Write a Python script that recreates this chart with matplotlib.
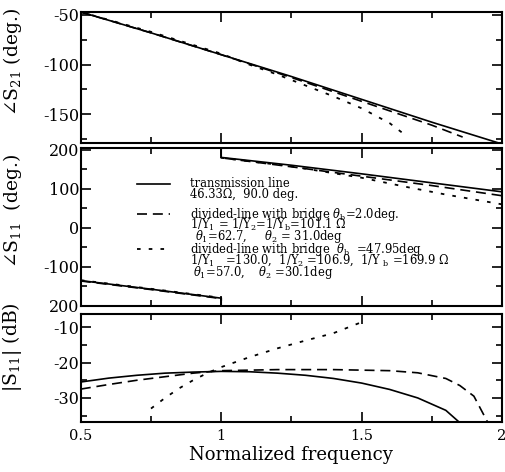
import matplotlib
matplotlib.use('Agg')
import matplotlib.pyplot as plt
from matplotlib.ticker import MultipleLocator

plt.rcParams['font.family'] = ['DejaVu Serif']
plt.rcParams['mathtext.fontset'] = 'dejavuserif'
plt.rcParams['axes.unicode_minus'] = False

# --- angle S21 (deg.) ---
f21_tl = [0.5, 0.75, 1.0, 1.25, 1.5, 1.75, 2.0]
s21_tl = [-47, -68, -90, -112, -135, -158, -180]
f21_dl = [0.5, 0.75, 1.0, 1.25, 1.5, 1.75, 1.86]
s21_dl = [-47, -68, -90, -113, -137, -161, -173]
f21_br = [0.5, 0.75, 1.0, 1.1, 1.2, 1.3, 1.4, 1.5, 1.6, 1.665]
s21_br = [-47, -67, -89, -100, -110, -121, -132, -144, -159, -173]

# --- angle S11 (deg.), two branches because of the +-180 wrap at f=1 ---
f11_lo = [0.5, 0.75, 1.0, 1.0]
s11_tl_lo = [-135, -157, -180, -210]
s11_dl_lo = [-136, -158, -181, -210]
s11_br_lo = [-134, -156, -179, -210]
f11_hi = [1.0, 1.0, 1.25, 1.5, 1.75, 2.0]
s11_tl_hi = [210, 180, 160, 138, 115, 92]
s11_dl_hi = [210, 179, 156, 132, 108, 82]
f11_br_hi = [1.0, 1.0, 1.25, 1.5, 1.67, 1.8, 2.0]
s11_br_hi = [210, 179, 157, 128, 103, 85, 60]

# --- |S11| (dB) ---
fm_tl = [0.5, 0.6, 0.7, 0.8, 0.9, 1.0, 1.1, 1.2, 1.3, 1.4, 1.5, 1.6, 1.7, 1.8, 1.85]
m_tl = [-25.5, -24.4, -23.6, -23.0, -22.7, -22.5, -22.6, -23.0, -23.6, -24.5,
        -25.8, -27.6, -30.0, -33.5, -37.0]
fm_dl = [0.5, 0.6, 0.7, 0.8, 0.9, 1.0, 1.2, 1.4, 1.6, 1.7, 1.8, 1.85, 1.9, 1.95]
m_dl = [-27.5, -26.2, -25.0, -24.0, -23.0, -22.3, -22.0, -22.0, -22.3, -22.9,
        -24.5, -26.5, -29.5, -37.0]
fm_br = [0.75, 0.8, 0.85, 0.9, 0.95, 1.0, 1.1, 1.2, 1.3, 1.4, 1.5]
m_br = [-33.0, -30.0, -27.3, -25.0, -23.0, -21.3, -18.5, -16.0, -13.8, -11.7, -8.6]

xticks = [0.5, 1.0, 1.5, 2.0]
xticklabels = ['0.5', '1', '1.5', '2']
ticks_s11 = [-200, -100, 0, 100, 200]
ticklabels_s11 = ['200', '-100', '0', '100', '200']

solid = dict(color='black', lw=1.2, ls='-')
dashed = dict(color='black', lw=1.2, ls=(0, (6, 3.5)))
dotted = dict(color='black', lw=1.3, ls=(0, (2, 4.5)))

fig = plt.figure(figsize=(5.05, 4.72), dpi=100)
ax1 = fig.add_axes([0.160, 0.697, 0.834, 0.2776])
ax2 = fig.add_axes([0.160, 0.3517, 0.834, 0.3347])
ax3 = fig.add_axes([0.160, 0.1059, 0.834, 0.2288])

ax1.plot(f21_tl, s21_tl, **solid)
ax1.plot(f21_dl, s21_dl, **dashed)
ax1.plot(f21_br, s21_br, **dotted)
ax1.set_ylim(-179, -47)
ax1.set_yticks([-150, -100, -50])
ax1.yaxis.set_minor_locator(MultipleLocator(25))

ax2.plot(f11_lo, s11_tl_lo, **solid)
ax2.plot(f11_lo, s11_dl_lo, **dashed)
ax2.plot(f11_lo, s11_br_lo, **dotted)
ax2.plot(f11_hi, s11_tl_hi, **solid)
ax2.plot(f11_hi, s11_dl_hi, **dashed)
ax2.plot(f11_br_hi, s11_br_hi, **dotted)
ax2.set_ylim(-200, 204)
ax2.set_yticks(ticks_s11)
ax2.set_yticklabels(ticklabels_s11)
ax2.yaxis.set_minor_locator(MultipleLocator(50))

ax3.plot(fm_tl, m_tl, **solid)
ax3.plot(fm_dl, m_dl, **dashed)
ax3.plot(fm_br, m_br, **dotted)
ax3.set_ylim(-36.8, -6.3)
ax3.set_yticks([-30, -20, -10])
ax3.yaxis.set_minor_locator(MultipleLocator(5))

for ax in (ax1, ax2, ax3):
    ax.set_xlim(0.5, 2.0)
    ax.set_xticks(xticks)
    ax.xaxis.set_minor_locator(MultipleLocator(0.25))
    ax.tick_params(which='both', direction='in', top=True, right=True,
                   labelsize=11.5, width=1.2, pad=1)
    ax.tick_params(which='major', length=7)
    ax.tick_params(which='minor', length=4)
    for sp in ax.spines.values():
        sp.set_linewidth(1.5)
    if ax is not ax3:
        ax.tick_params(labelbottom=False)

ax3.set_xticklabels(xticklabels)
ax3.tick_params(axis='x', labelsize=10.5, pad=5)
ax3.set_xlabel('Normalized frequency', fontsize=13, labelpad=2)

ax1.set_ylabel(r'$\angle$S$_{21}$ (deg.)', fontsize=13.5)
ax2.set_ylabel(r'$\angle$S$_{11}$  (deg.)', fontsize=13.5)
ax3.set_ylabel(r'|S$_{11}$| (dB)', fontsize=13.5)
ax1.yaxis.set_label_coords(-0.135, 0.62)
ax2.yaxis.set_label_coords(-0.135, 0.60)
ax3.yaxis.set_label_coords(-0.135, 0.69)

# legend drawn by hand inside the middle panel
leg_fs = 8.3
tx = 0.259
ax2.plot([0.133, 0.211], [0.775, 0.775], transform=ax2.transAxes, **solid)
ax2.text(tx, 0.775, 'transmission line', transform=ax2.transAxes, fontsize=leg_fs, va='center')
ax2.text(tx, 0.708, '46.33Ω,  90.0 deg.', transform=ax2.transAxes, fontsize=leg_fs, va='center')
ax2.plot([0.133, 0.211], [0.582, 0.582], transform=ax2.transAxes, **dashed)
ax2.text(tx, 0.582, r'divided-line with bridge $\theta_{\rm b}$=2.0deg.',
         transform=ax2.transAxes, fontsize=leg_fs, va='center')
ax2.text(tx, 0.510, r'1/Y$_1$ = 1/Y$_2$=1/Y$_{\rm b}$=101.1 Ω',
         transform=ax2.transAxes, fontsize=leg_fs, va='center')
ax2.text(0.271, 0.440, r'$\theta_1$=62.7,     $\theta_2$ = 31.0deg',
         transform=ax2.transAxes, fontsize=leg_fs, va='center')
ax2.plot([0.133, 0.211], [0.360, 0.360], transform=ax2.transAxes, **dotted)
ax2.text(tx, 0.360, r'divided-line with bridge  $\theta_{\rm b}$  =47.95deg',
         transform=ax2.transAxes, fontsize=leg_fs, va='center')
ax2.text(tx, 0.288, r'1/Y$_1$   =130.0,  1/Y$_2$ =106.9,  1/Y $_{\rm b}$ =169.9 Ω',
         transform=ax2.transAxes, fontsize=leg_fs, va='center')
ax2.text(0.266, 0.214, r'$\theta_1$=57.0,    $\theta_2$ =30.1deg',
         transform=ax2.transAxes, fontsize=leg_fs, va='center')

fig.savefig('out.png', dpi=100)
